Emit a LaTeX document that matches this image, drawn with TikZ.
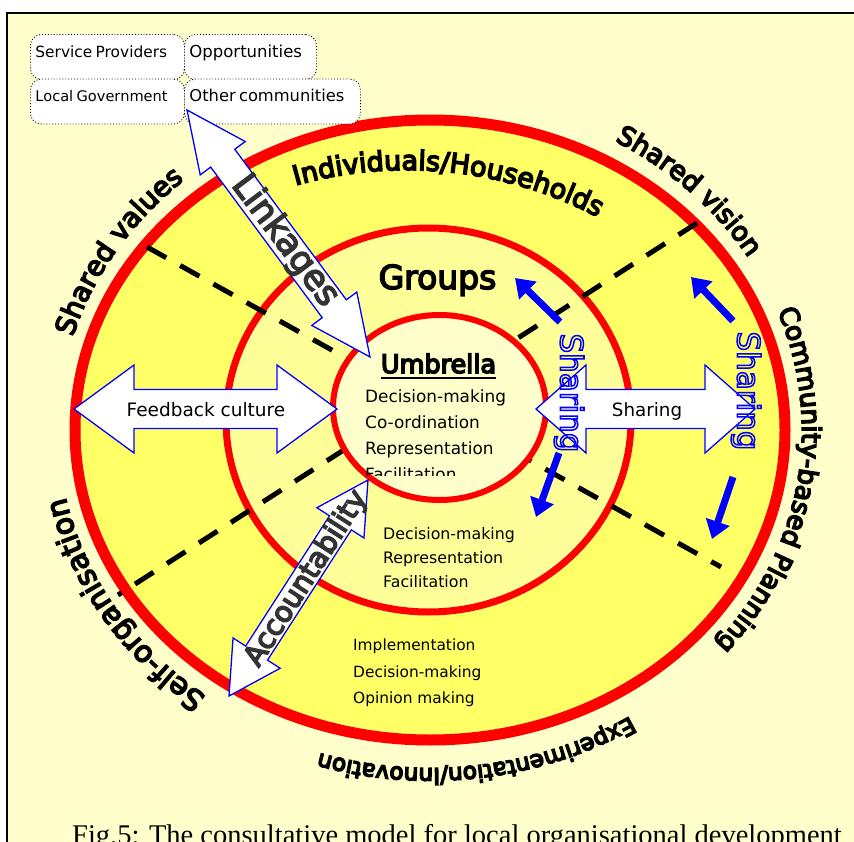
\documentclass[tikz,border=0pt]{standalone}
\usepackage{fontspec}
\setmainfont{DejaVu Sans}
\newfontfamily\capfont{Liberation Serif}
\usetikzlibrary{decorations.text,arrows.meta}
\definecolor{bgyel}{HTML}{FFFFCC}
\definecolor{outyel}{HTML}{FFFF66}
\definecolor{midyel}{HTML}{FFFF99}
\definecolor{inyel}{HTML}{FFFFCC}
\definecolor{ringred}{HTML}{FF0000}
\definecolor{arrblue}{HTML}{0000FF}
\definecolor{dgrey}{HTML}{333333}
\newcommand{\fs}[2]{\fontsize{#1}{#2}\selectfont}
\newcommand{\hollow}[1]{\special{pdf:literal direct 1 Tr 1.5 w}#1\special{pdf:literal direct 0 Tr}}
\newcommand{\emb}[1]{\special{pdf:literal direct 2 Tr 1.5 w}#1\special{pdf:literal direct 0 Tr}}
\newcommand{\embs}{\special{pdf:literal direct 2 Tr 1.5 w}}
% #1 start, #2 angle, #3 length, #4 shaft half, #5 head half, #6 head length
\newcommand{\dblarr}[6]{%
\begin{scope}[shift={#1}, rotate=#2]
\draw[bigarrow] (0,0) -- (#6,#5) -- (#6,#4) -- ({#3-#6},#4) -- ({#3-#6},#5) -- (#3,0)
  -- ({#3-#6},-#5) -- ({#3-#6},-#4) -- (#6,-#4) -- (#6,-#5) -- cycle;
\end{scope}}
\tikzset{
  linkbox/.style={draw=black, dotted, line width=0.9pt, fill=white, rounded corners=11pt,
    inner xsep=5pt, inner ysep=0pt, align=left, text height=11pt, text depth=10pt,
    minimum height=45pt, anchor=west},
  bigarrow/.style={draw=arrblue, line width=1.3pt, fill=white, line join=miter},
  ringline/.style={draw=ringred},
  dashline/.style={draw=black, line width=5pt, dash pattern=on 22pt off 16pt},
  smallarrow/.style={draw=arrblue, line width=7pt, -{Triangle[length=18pt,width=24pt]}},
  listtext/.style={anchor=base west, inner sep=0pt, text=black},
}
\begin{document}
\begin{tikzpicture}[x=1pt,y=1pt]
\useasboundingbox (0,0) rectangle (854,-842);
\fill[white] (0,0) rectangle (854,-842);
\draw[line width=1.5pt, fill=bgyel] (7,-13) rectangle (880,-870);

% rings
\draw[ringline, line width=11pt, fill=outyel] (430,-430) ellipse [x radius=355pt, y radius=310pt];
\draw[ringline, line width=7pt, fill=midyel] (428.5,-420) ellipse [x radius=202.5pt, y radius=192pt];
\draw[dashline] (147,-247) -- (721,-567);
\draw[dashline] (697,-223) -- (118,-595);
\draw[ringline, line width=6pt, fill=inyel] (439.5,-407.5) ellipse [x radius=106.5pt, y radius=92.5pt];

% band texts
\node[anchor=base, inner sep=0pt] (groups) at (437.5,-289) {\fs{33}{33}\emb{Groups}};
\node[anchor=base, inner sep=0pt] (umb) at (438.5,-373) {\fs{25.5}{26}\emb{Umbrella}};
\draw[line width=2pt] ([yshift=-5pt]umb.base west) -- ([yshift=-5pt]umb.base east);
\begin{scope}
\clip (355,-380) rectangle (530,-475.5);
\node[listtext] (in1) at (365,-402) {\fs{16.9}{18}Decision-making};
\node[listtext] (in2) at (365,-428) {\fs{16.9}{18}Co-ordination};
\node[listtext] (in3) at (365,-454) {\fs{16.9}{18}Representation};
\node[listtext] (in4) at (365,-480) {\fs{16.9}{18}Facilitation};
\end{scope}
\begin{scope}
\clip (370,-515) rectangle (540,-586);
\node[listtext] (md1) at (383,-539) {\fs{15.8}{17}Decision-making};
\node[listtext] (md2) at (383,-563) {\fs{15.8}{17}Representation};
\node[listtext] (md3) at (383,-587) {\fs{15.8}{17}Facilitation};
\end{scope}
\node[listtext] (ou1) at (353,-650) {\fs{15.4}{17}Implementation};
\node[listtext] (ou2) at (353,-677) {\fs{15.4}{17}Decision-making};
\node[listtext] (ou3) at (353,-703) {\fs{15.4}{17}Opinion making};

% link boxes
\node[linkbox, text width=144pt] (sp) at (30,-57) {\fs{15.4}{16}Service Providers};
\node[linkbox, text width=122pt] (op) at (184,-57) {\fs{16.5}{17}Opportunities};
\node[linkbox, text width=144pt] (lg) at (30,-101.5) {\fs{14.6}{16}Local Government};
\node[linkbox, text width=166pt] (oc) at (184,-101.5) {\fs{16.3}{17}Other communities};

% big double arrows
\dblarr{(187,-110)}{-53.46}{307.4}{15}{28}{60}
\dblarr{(74,-409)}{0}{263}{19.5}{44}{60}
\dblarr{(536,-409)}{0}{219}{19.5}{44}{50}
\dblarr{(229,-696)}{57.24}{256.9}{13}{28}{51}
\node[anchor=base, inner sep=0pt] (fb) at (206,-416) {\fs{18.5}{19}Feedback culture};
\node[anchor=base, inner sep=0pt] (shr) at (647,-416) {\fs{18.3}{19}Sharing};
\node[rotate=-53, text=dgrey, inner sep=0pt] (link) at (285,-241) {\fs{35}{35}\emb{Linkages}};
\node[rotate=57.4, text=dgrey, inner sep=0pt] (acc) at (306.5,-578.5) {\fs{28.5}{29}\emb{Accountability}};

% blue sharing arrows and labels
\draw[smallarrow] (560,-322) -- (515,-278);
\draw[smallarrow] (733,-321) -- (691,-277);
\draw[smallarrow] (559,-453) -- (536,-517);
\draw[smallarrow] (733,-477) -- (712,-539);
\node[rotate=-90, text=arrblue, inner sep=0pt] (sv1) at (569,-393) {\fs{31}{31}\hollow{Sharing}};
\node[rotate=-90, text=arrblue, inner sep=0pt] (sv2) at (746,-391) {\fs{31}{31}\hollow{Sharing}};

% caption
\node[anchor=base west, inner sep=0pt] (cap) at (72,-844) {\capfont\fs{28.5}{30}Fig.5: The consultative model for local organisational development};

% outer curved labels (drawn last)
\path[decorate, decoration={text along path, text align=center,
  text={|\embs\fs{27.5}{28}|Shared values}}]
  (430,-430) ++(199:372pt and 333pt) arc[start angle=199, end angle=99, x radius=372pt, y radius=333pt];
\path[decorate, decoration={text along path, text align=center,
  text={|\embs\fs{26.5}{27}|Shared vision}}]
  (430,-430) ++(94:372pt and 333pt) arc[start angle=94, end angle=-6, x radius=372pt, y radius=333pt];
\path[decorate, decoration={text along path, text align=center,
  text={|\embs\fs{26}{26}|Community-based Planning}}]
  (430,-430) ++(51:372pt and 333pt) arc[start angle=51, end angle=-69, x radius=372pt, y radius=333pt];
\path[decorate, decoration={text along path, text align=center,
  text={|\embs\fs{23}{23}|Experimentation/Innovation}}]
  (430,-430) ++(-22:376pt and 338pt) arc[start angle=-22, end angle=-142, x radius=376pt, y radius=338pt];
\path[decorate, decoration={text along path, text align=center,
  text={|\embs\fs{29.5}{30}|Self-organisation}}]
  (430,-430) ++(261:372pt and 333pt) arc[start angle=261, end angle=161, x radius=372pt, y radius=333pt];
\path[decorate, decoration={text along path, text align=center,
  text={|\embs\fs{27}{27}|Individuals/Households}}]
  (407,-579) ++(134:409pt) arc[start angle=134, end angle=34, radius=409pt];
\end{tikzpicture}
\end{document}
